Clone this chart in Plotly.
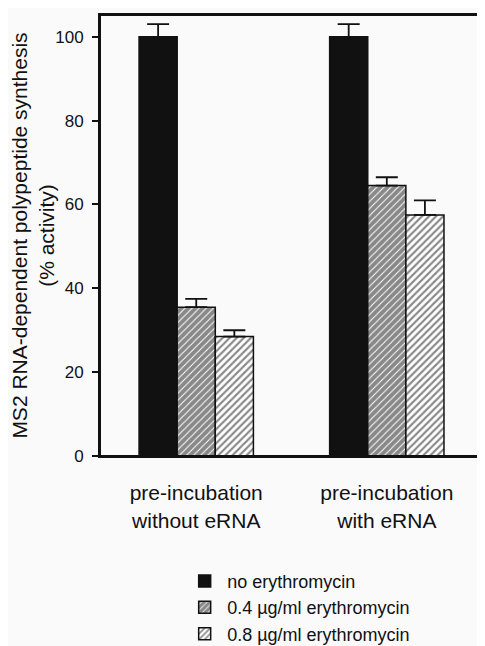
import plotly.graph_objects as go

groups = ["pre-incubation<br>without eRNA", "pre-incubation<br>with eRNA"]
series_names = ["no erythromycin", "0.4 \u00b5g/ml erythromycin", "0.8 \u00b5g/ml erythromycin"]
no_ery = [100, 100]
ery_04 = [35.5, 64.5]
ery_08 = [28.5, 57.5]
err_no = [3, 3]
err_04 = [2, 2]
err_08 = [1.5, 3.5]
y_ticks = [0, 20, 40, 60, 80, 100]

xpos = list(range(len(groups)))
values = [no_ery, ery_04, ery_08]
errors = [err_no, err_04, err_08]
patterns = [
    dict(shape=""),
    dict(shape="/", fgcolor="#111111", bgcolor="#ffffff", size=5, solidity=0.8),
    dict(shape="/", fgcolor="#111111", bgcolor="#ffffff", size=5, solidity=0.42),
]
colors = ["#111111", "#ffffff", "#ffffff"]

fig = go.Figure()
for i, (name, vals, errs) in enumerate(zip(series_names, values, errors)):
    fig.add_trace(go.Bar(
        x=xpos, y=vals, name=name,
        marker=dict(color=colors[i], pattern=patterns[i],
                    line=dict(color="#111111", width=1.5)),
        error_y=dict(type="data", array=errs, arrayminus=[0] * len(errs),
                     symmetric=False, color="#111111", thickness=1.8, width=11),
        legendgroup="g%d" % i,
    ))

# page body has an 8px margin: figure sized to fit the remaining viewport
fig.update_layout(
    width=477, height=638,
    margin=dict(l=92, r=1, t=7, b=190, autoexpand=False),
    barmode="group", bargap=0.4, bargroupgap=0,
    paper_bgcolor="#fafafa", plot_bgcolor="#fafafa",
    font=dict(family="Liberation Sans, Arial, sans-serif", color="#111111"),
    showlegend=True,
    legend=dict(x=0.214, xanchor="left", y=-0.242, yanchor="top",
                font=dict(size=18), tracegroupgap=0, itemwidth=35,
                bgcolor="rgba(0,0,0,0)"),
    shapes=[dict(type="rect", xref="paper", yref="paper", x0=0, x1=1, y0=0, y1=1,
                 line=dict(color="#111111", width=2), layer="above")],
)
fig.update_xaxes(
    range=[-0.505, 1.51], tickvals=xpos, ticktext=groups,
    showline=True, linecolor="#111111", linewidth=2, mirror=True,
    ticks="", tickfont=dict(size=21), ticklabelstandoff=17,
    showgrid=False, zeroline=False,
)
fig.update_yaxes(
    range=[0, 105.2], tickvals=y_ticks,
    showline=True, linecolor="#111111", linewidth=2, mirror=True,
    ticks="outside", ticklen=6, tickwidth=2, tickcolor="#111111",
    tickfont=dict(size=17), ticklabelstandoff=5, showgrid=False, zeroline=False,
    title=dict(text="MS2 RNA-dependent polypeptide synthesis<br>(% activity)",
               font=dict(size=21), standoff=2),
)
fig.write_html("out.html")
